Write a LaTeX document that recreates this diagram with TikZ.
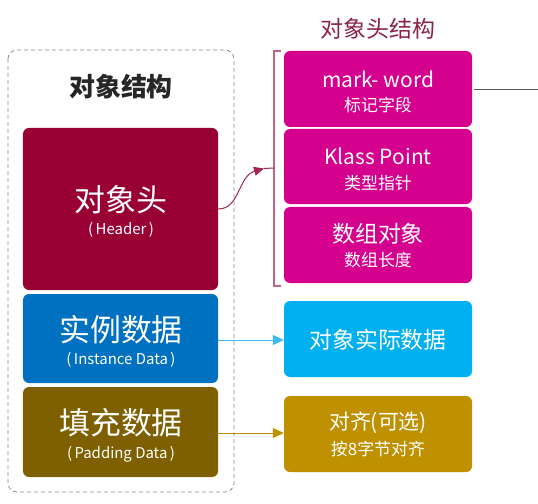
\documentclass[tikz,border=0pt]{standalone}
\usepackage{fontspec}
\setmainfont{Noto Sans CJK SC}
\usetikzlibrary{arrows.meta}
\definecolor{hdrred}{HTML}{990033}
\definecolor{instblue}{HTML}{0070C0}
\definecolor{padbrown}{HTML}{7F6000}
\definecolor{pinkbox}{HTML}{D5008D}
\definecolor{cyanbox}{HTML}{00B0F0}
\definecolor{goldbox}{HTML}{BF9000}
\definecolor{titlered}{HTML}{8B2346}
\definecolor{brk}{HTML}{C26585}
\definecolor{curvecol}{HTML}{A3264F}
\definecolor{arrblue}{HTML}{3DB9EE}
\newcommand{\fsz}[1]{\fontsize{#1}{#1}\selectfont}
\tikzset{
  box/.style={rounded corners=6bp, inner sep=0pt, draw=none},
  txt/.style={text=white, inner sep=0pt, anchor=center},
}
\begin{document}
\begin{tikzpicture}[x=1bp,y=-1bp]
\useasboundingbox (0,0) rectangle (538,504);
% outer dashed frame
\draw[gray!90, dash pattern=on 4bp off 3bp, line width=0.8bp, rounded corners=9bp] (8,50) rectangle (234,492);
\node[inner sep=0pt, text=black!85] (ttl) at (121,87) {\fsz{26}\bfseries 对象结构};

% left boxes
\node[box, fill=hdrred, minimum width=195bp, minimum height=162bp] (hdr) at (120.5,209) {};
\node[txt] (hdrA) at (121,200) {\fsz{31}对象头};
\node[txt] (hdrB) at (121,230) {\fsz{15}(\,Header\,)};

\node[box, fill=instblue, minimum width=195bp, minimum height=89bp] (inst) at (120.5,338.5) {};
\node[txt] (instA) at (121,330) {\fsz{31}实例数据};
\node[txt] (instB) at (121,360) {\fsz{15}(\,Instance Data\,)};

\node[box, fill=padbrown, minimum width=195bp, minimum height=90bp] (pad) at (120.5,432) {};
\node[txt] (padA) at (121,423) {\fsz{31}填充数据};
\node[txt] (padB) at (121,454) {\fsz{15}(\,Padding Data\,)};

% right title
\node[inner sep=0pt, text=titlered] (rttl) at (378,29) {\fsz{23}对象头结构};

% pink boxes
\node[box, fill=pinkbox, minimum width=188bp, minimum height=76bp] (p1) at (378,89) {};
\node[txt] (p1A) at (378,79) {\fsz{21}mark- word};
\node[txt] (p1B) at (378,105) {\fsz{17}标记字段};

\node[box, fill=pinkbox, minimum width=188bp, minimum height=75bp] (p2) at (378,166.5) {};
\node[txt] (p2A) at (378,156) {\fsz{21}Klass Point};
\node[txt] (p2B) at (378,183) {\fsz{17}类型指针};

\node[box, fill=pinkbox, minimum width=188bp, minimum height=76bp] (p3) at (378,245) {};
\node[txt] (p3A) at (378,234) {\fsz{23}数组对象};
\node[txt] (p3B) at (378,260) {\fsz{17}数组长度};

\node[box, fill=cyanbox, minimum width=188bp, minimum height=76bp] (cy) at (378,339) {};
\node[txt] (cyA) at (378,340) {\fsz{23}对象实际数据};

\node[box, fill=goldbox, minimum width=188bp, minimum height=76bp] (gd) at (378,434) {};
\node[txt] (gdA) at (378,423) {\fsz{21}对齐(可选)};
\node[txt] (gdB) at (378,449) {\fsz{17}按8字节对齐};

% bracket
\coordinate (bt) at (281,51);
\coordinate (bb) at (281,286);
\coordinate (bm) at (274,168);
\draw[brk, line width=1.1bp] (bt) -- (274,51) -- (274,286) -- (bb);

% curved arrow from header
\coordinate (tip) at (264,168.5);
\draw[curvecol, line width=1bp, -{Triangle[length=10bp,width=9bp]}]
  (hdr.east) .. controls (240,209) and (238,176) .. (tip);
\draw[curvecol, line width=1bp] (tip) -- (bm);

% straight arrows
\draw[arrblue, line width=1bp, -{Triangle[length=11bp,width=10bp]}] (inst.east |- 0,340) -- (cy.west |- 0,340);
\draw[goldbox, line width=1bp, -{Triangle[length=11bp,width=10bp]}] (pad.east |- 0,433) -- (gd.west |- 0,433);

% line leaving to the right
\coordinate (rout) at (538,89);
\draw[black!65, line width=0.9bp] ([xshift=2bp]p1.east) -- (rout);
\end{tikzpicture}
\end{document}
